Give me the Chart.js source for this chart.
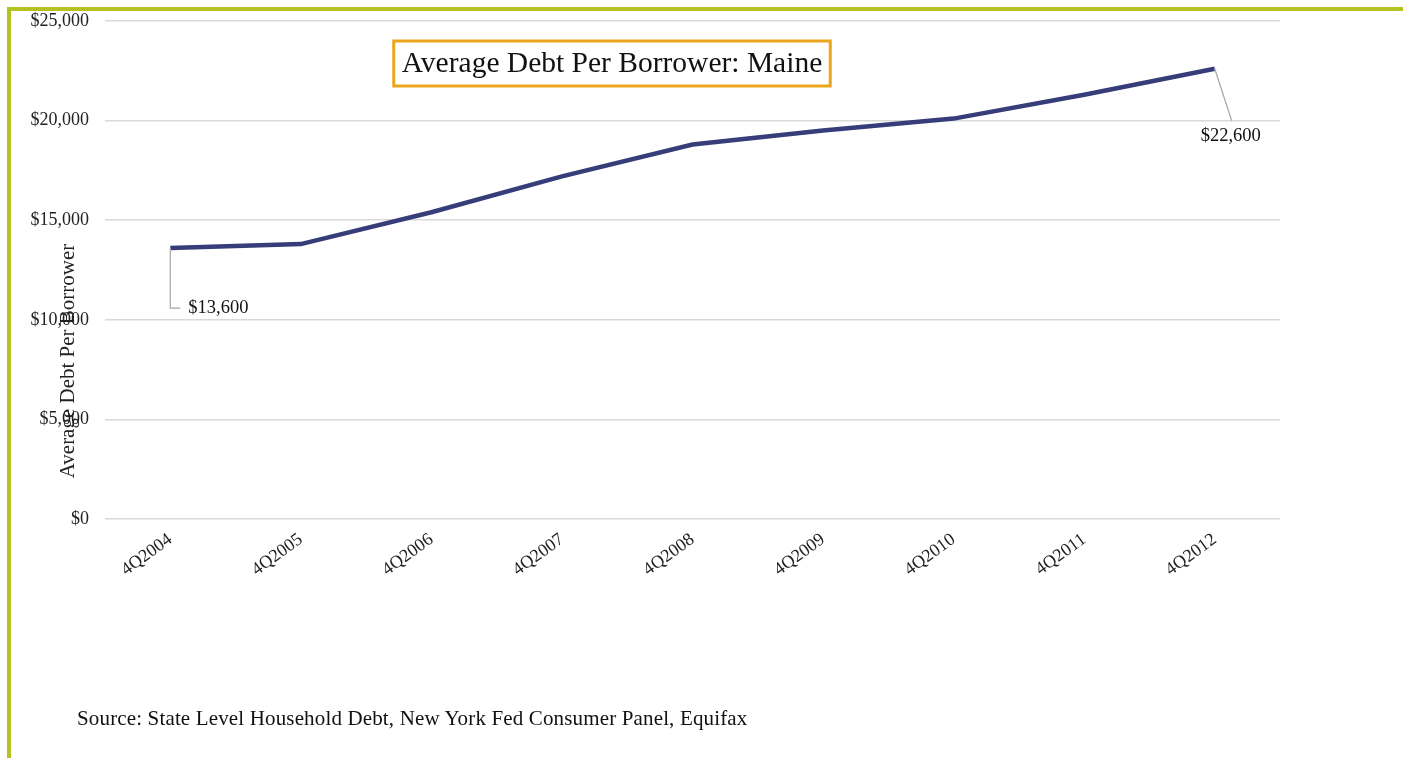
<!DOCTYPE html>
<html>
<head>
<meta charset="utf-8">
<script src="https://cdn.jsdelivr.net/npm/chart.js@4/dist/chart.umd.min.js"></script>
<style>
    html, body { margin: 0; padding: 0; background: #fff; }
    #wrap { position: relative; width: 1403px; height: 758px; overflow: hidden; }
    #frame {
        position: absolute; left: 7px; top: 7px; width: 1500px; height: 800px;
        border-left: 4px solid #B5C121; border-top: 4px solid #B5C121;
    }
    #source {
        position: absolute; left: 77px; top: 706px;
        font-family: "Liberation Serif", serif; font-size: 21px; letter-spacing: 0.15px; color: #111;
    }
    canvas { position: absolute; left: 0; top: 0; }
</style>
</head>
<body>
<div id="wrap">
    <canvas id="myChart" width="1403" height="758"></canvas>
    <div id="frame"></div>
    <div id="source">Source: State Level Household Debt, New York Fed Consumer Panel, Equifax</div>
</div>
<script>
// data
const quarters = ["4Q2004", "4Q2005", "4Q2006", "4Q2007", "4Q2008", "4Q2009", "4Q2010", "4Q2011", "4Q2012"];
const avgDebt = [13600, 13800, 15400, 17200, 18800, 19500, 20100, 21300, 22600];
const yTicks = [0, 5000, 10000, 15000, 20000, 25000];

const chartTitle = "Average Debt Per Borrower: Maine";
const yTitle = "Average Debt Per Borrower";

const money = v => "$" + v.toLocaleString("en-US");

(() => {
    const ctx = document.getElementById('myChart').getContext('2d');
    const serif = '"Liberation Serif", serif';

    // title box, axis title and the two callout labels
    const extras = {
        id: 'extras',
        afterDatasetsDraw(chart) {
            const c = chart.ctx;
            const pts = chart.getDatasetMeta(0).data;
            c.save();

            // callouts for first and last points
            c.strokeStyle = '#A6A6A6';
            c.lineWidth = 1.2;
            c.fillStyle = '#111';
            c.font = '18.5px ' + serif;

            const p0 = pts[0];
            c.beginPath();
            c.moveTo(p0.x, p0.y);
            c.lineTo(p0.x, p0.y + 60);
            c.lineTo(p0.x + 10, p0.y + 60);
            c.stroke();
            c.textAlign = 'left';
            c.textBaseline = 'middle';
            c.fillText(money(avgDebt[0]), p0.x + 18, p0.y + 60);

            const pN = pts[pts.length - 1];
            c.beginPath();
            c.moveTo(pN.x, pN.y);
            c.lineTo(pN.x + 17, pN.y + 52);
            c.stroke();
            c.textAlign = 'center';
            c.fillText(money(avgDebt[avgDebt.length - 1]), pN.x + 16, pN.y + 67);

            // boxed title
            c.font = '29.5px ' + serif;
            const tw = c.measureText(chartTitle).width;
            const cx = 612, cy = 63.5;
            const bw = tw + 16, bh = 45;
            c.fillStyle = '#fff';
            c.fillRect(cx - bw / 2, cy - bh / 2, bw, bh);
            c.strokeStyle = '#EBA61E';
            c.lineWidth = 3;
            c.strokeRect(cx - bw / 2, cy - bh / 2, bw, bh);
            c.fillStyle = '#111';
            c.textAlign = 'center';
            c.textBaseline = 'middle';
            c.fillText(chartTitle, cx, cy + 1);

            // y axis title, sits low like in the original
            c.translate(68, 361);
            c.rotate(-Math.PI / 2);
            c.font = '21px ' + serif;
            c.fillStyle = '#222';
            c.fillText(yTitle, 0, 0);
            c.restore();
        }
    };

    new Chart(ctx, {
        type: 'line',
        data: {
            labels: quarters,
            datasets: [{
                label: 'Average Debt Per Borrower',
                data: avgDebt,
                borderColor: '#363D78',
                borderWidth: 4.5,
                pointRadius: 0,
                tension: 0,
                fill: false
            }]
        },
        options: {
            responsive: false,
            animation: false,
            layout: { padding: { left: 0, right: 123, top: 21, bottom: 0 } },
            plugins: {
                legend: { display: false },
                tooltip: { enabled: false }
            },
            scales: {
                x: {
                    offset: true,
                    grid: { display: false },
                    border: { display: false },
                    ticks: {
                        minRotation: 36,
                        maxRotation: 36,
                        padding: 2,
                        color: '#222',
                        font: { family: serif, size: 18 }
                    },
                    afterFit: s => { s.height = 239; s.paddingLeft = 0; s.paddingRight = 0; }
                },
                y: {
                    min: 0,
                    max: 25000,
                    afterBuildTicks: s => { s.ticks = yTicks.map(v => ({ value: v })); },
                    grid: { color: '#D9D9D9', lineWidth: 1.5, drawTicks: false },
                    border: { display: false },
                    ticks: {
                        padding: 16,
                        color: '#222',
                        font: { family: serif, size: 18 },
                        callback: v => money(v)
                    },
                    afterFit: s => { s.width = 105; s.paddingTop = 0; s.paddingBottom = 0; }
                }
            }
        },
        plugins: [extras]
    });
})();
</script>
</body>
</html>
